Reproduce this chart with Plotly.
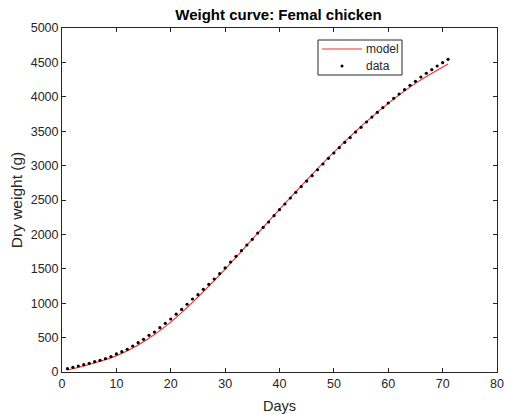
import plotly.graph_objects as go

# Data points (days 1..71)
data_days = list(range(1, 72))
data_weight = [48, 68, 87, 106, 126, 150, 170, 193, 223, 262,
               295, 330, 378, 426, 475, 533, 581, 644, 708, 770,
               840, 910, 985, 1061, 1124, 1202, 1275, 1352, 1429, 1512,
               1599, 1681, 1763, 1846, 1929, 2020, 2103, 2180, 2272, 2359,
               2442, 2529, 2612, 2695, 2775, 2853, 2940, 3023, 3106, 3183,
               3260, 3339, 3406, 3488, 3557, 3634, 3706, 3775, 3842, 3910,
               3978, 4041, 4103, 4167, 4225, 4288, 4342, 4394, 4448, 4496, 4545]

# Model curve read at sample days
model_days = [1, 5, 10, 15, 20, 25, 30, 35, 40, 45, 50, 55, 60, 65, 71]
model_weight = [30, 110, 235, 440, 725, 1090, 1495, 1930, 2365, 2790, 3195, 3570, 3905, 4195, 4477]

x_ticks = [0, 10, 20, 30, 40, 50, 60, 70, 80]
y_ticks = [0, 500, 1000, 1500, 2000, 2500, 3000, 3500, 4000, 4500, 5000]

FONT = "Liberation Sans, Arial, Helvetica, sans-serif"
W, H = 505, 414
L, R, T, B = 62, 8, 28, 42
PW, PH = W - L - R, H - T - B

def px(xp):
    return (xp - L) / PW

def py(yp):
    return (H - B - yp) / PH

fig = go.Figure()
fig.add_trace(go.Scatter(x=model_days, y=model_weight, mode="lines", name="model",
                         line=dict(color="#ff2a2a", width=1.1, shape="spline")))
fig.add_trace(go.Scatter(x=data_days, y=data_weight, mode="markers", name="data",
                         marker=dict(color="black", size=3.2)))

axis_common = dict(showline=True, linecolor="#262626", linewidth=1, mirror="ticks",
                   ticks="inside", ticklen=4, tickcolor="#262626", showgrid=False,
                   zeroline=False, automargin=False,
                   tickfont=dict(family=FONT, size=12.5, color="#262626"))

shapes = [
    dict(type="rect", xref="paper", yref="paper", x0=px(318), x1=px(402), y0=py(40), y1=py(75),
         line=dict(color="#262626", width=1), fillcolor="white", layer="above"),
    dict(type="line", xref="paper", yref="paper", x0=px(322), x1=px(362), y0=py(49), y1=py(49),
         line=dict(color="#ff2a2a", width=1.1), layer="above"),
    dict(type="circle", xref="paper", yref="paper", x0=px(340.5), x1=px(343.5), y0=py(64.5), y1=py(67.5),
         line=dict(color="black", width=0), fillcolor="black", layer="above"),
]
annotations = [
    dict(text="model", xref="paper", yref="paper", x=px(364), y=py(49), xanchor="left", yanchor="middle",
         showarrow=False, font=dict(family=FONT, size=12, color="#262626")),
    dict(text="data", xref="paper", yref="paper", x=px(364), y=py(66), xanchor="left", yanchor="middle",
         showarrow=False, font=dict(family=FONT, size=12, color="#262626")),
]

fig.update_layout(
    width=W, height=H, autosize=False,
    margin=dict(l=L, r=R, t=T, b=B, autoexpand=False),
    paper_bgcolor="white", plot_bgcolor="white",
    title=dict(text="<b>Weight curve: Femal chicken</b>", x=(278.5 / W), xanchor="center",
               y=1 - 15 / H, yanchor="middle",
               font=dict(family=FONT, size=15, color="black")),
    xaxis=dict(range=[0, 80], tickvals=x_ticks, title=dict(text="Days", standoff=10,
               font=dict(family=FONT, size=14.5, color="#262626")), **axis_common),
    yaxis=dict(range=[0, 5000], tickvals=y_ticks, title=dict(text="Dry weight (g)", standoff=4,
               font=dict(family=FONT, size=15.5, color="#262626")), **axis_common),
    shapes=shapes,
    annotations=annotations,
    showlegend=False,
)

fig.write_html("out.html", config={"displayModeBar": False, "responsive": False},
               post_script="document.body.style.margin='0';document.body.style.overflow='hidden';")
